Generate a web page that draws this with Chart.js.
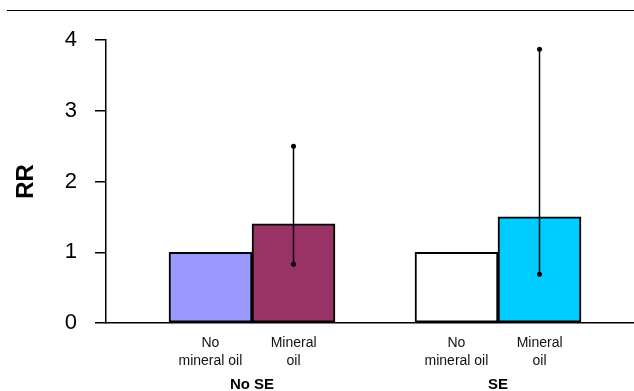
<!DOCTYPE html>
<html>
<head>
<meta charset="utf-8">
<script src="https://cdn.jsdelivr.net/npm/chart.js@4"></script>
<style>
  html, body { margin: 0; padding: 0; background: #fff; }
  #rule { position: absolute; left: 7px; top: 10px; width: 627px; border-top: 1px solid #000; }
  canvas { position: absolute; left: 0; top: 0; }
</style>
</head>
<body>
<div id="rule"></div>
<canvas id="rrChart" width="634" height="391"></canvas>
<script>
// groups and bars
const groupLabels = ['No SE', 'SE'];
const groupPos = [0, 1];
const barLabels = [['No', 'mineral oil'], ['Mineral', 'oil']];

// relative risk values
const noOilRR = [1.0, 1.0];
const oilRR = [1.4, 1.5];
const oilLow = [0.83, 0.69];
const oilHigh = [2.5, 3.87];

const noOilColors = ['#9999FF', '#FFFFFF'];
const oilColors = ['#993366', '#00CCFF'];

const yTicks = [0, 1, 2, 3, 4];

const FONT = '"Liberation Sans", Arial, Helvetica, sans-serif';
const BAR_W = 83;
const BAR_OFFSET = 0.169; // half bar width in x units
const X_MIN = -0.5935, X_MAX = 1.5528;

const errorBars = {
    id: 'errorBars',
    afterDatasetsDraw(chart) {
        const ctx = chart.ctx;
        const y = chart.scales.y;
        const meta = chart.getDatasetMeta(1);
        ctx.save();
        ctx.strokeStyle = '#000';
        ctx.fillStyle = '#000';
        ctx.lineWidth = 1.5;
        meta.data.forEach((bar, i) => {
            const top = y.getPixelForValue(oilHigh[i]);
            const bot = y.getPixelForValue(oilLow[i]);
            ctx.beginPath();
            ctx.moveTo(bar.x, top);
            ctx.lineTo(bar.x, bot);
            ctx.stroke();
            [top, bot].forEach(p => {
                ctx.beginPath();
                ctx.arc(bar.x, p, 2.5, 0, Math.PI * 2);
                ctx.fill();
            });
        });
        ctx.restore();
    }
};

const ctx = document.getElementById('rrChart').getContext('2d');
const rrChart = new Chart(ctx, {
    type: 'bar',
    data: {
        datasets: [{
            label: 'No mineral oil',
            data: groupPos.map((x, i) => ({ x: x, y: noOilRR[i] })),
            backgroundColor: noOilColors,
            borderColor: '#000',
            borderWidth: 2,
            borderSkipped: false,
            barThickness: BAR_W
        }, {
            label: 'Mineral oil',
            data: groupPos.map((x, i) => ({ x: x, y: oilRR[i] })),
            backgroundColor: oilColors,
            borderColor: '#000',
            borderWidth: 2,
            borderSkipped: false,
            barThickness: BAR_W
        }]
    },
    options: {
        responsive: false,
        animation: false,
        layout: { padding: { top: 40, left: 0, right: 0, bottom: 0 } },
        plugins: { legend: { display: false }, tooltip: { enabled: false } },
        scales: {
            x: {
                type: 'linear',
                offset: false,
                min: X_MIN,
                max: X_MAX,
                afterBuildTicks: s => {
                    s.ticks = [];
                    groupPos.forEach(g => {
                        s.ticks.push({ value: g - BAR_OFFSET }, { value: g + BAR_OFFSET });
                    });
                },
                afterFit: s => { s.height = 47; },
                grid: { drawOnChartArea: false, drawTicks: false },
                border: { color: '#000', width: 1.5 },
                ticks: {
                    autoSkip: false,
                    maxRotation: 0,
                    padding: 11,
                    color: '#111',
                    font: { family: FONT, size: 14, lineHeight: 1.3 },
                    callback: (v, i) => barLabels[i % 2]
                }
            },
            x2: {
                type: 'linear',
                position: 'bottom',
                offset: false,
                min: X_MIN,
                max: X_MAX,
                afterBuildTicks: s => { s.ticks = groupPos.map(v => ({ value: v })); },
                afterFit: s => { s.height = 21; },
                grid: { display: false },
                border: { display: false },
                ticks: {
                    autoSkip: false,
                    maxRotation: 0,
                    padding: -2,
                    color: '#000',
                    font: { family: FONT, size: 15, weight: 'bold', lineHeight: 1.2 },
                    callback: (v, i) => groupLabels[i]
                }
            },
            y: {
                min: 0,
                max: 4,
                afterBuildTicks: s => { s.ticks = yTicks.map(v => ({ value: v })); },
                afterFit: s => { s.width = 106; },
                grid: { drawOnChartArea: false, drawTicks: true, tickLength: 11, color: '#000', lineWidth: 1.5 },
                border: { color: '#000', width: 1.5 },
                ticks: {
                    padding: 18,
                    color: '#000',
                    font: { family: FONT, size: 22 }
                },
                title: {
                    display: true,
                    text: 'RR',
                    color: '#000',
                    padding: { top: 12, bottom: 0 },
                    font: { family: FONT, size: 24, weight: 'bold', lineHeight: 1.2 }
                }
            }
        }
    },
    plugins: [errorBars]
});
</script>
</body>
</html>
